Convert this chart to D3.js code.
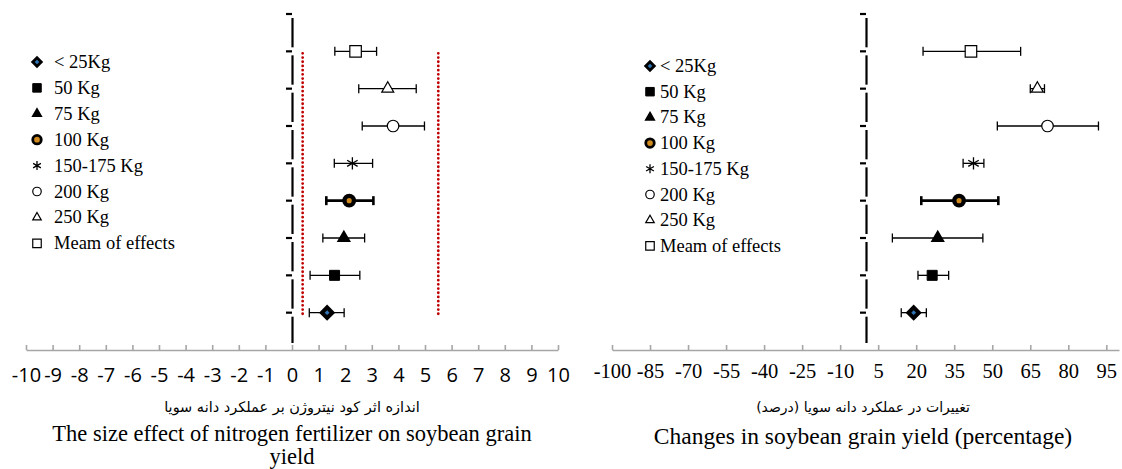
<!DOCTYPE html>
<html>
<body style="margin:0;background:#fff">

<script src="https://d3js.org/d3.v7.min.js"></script>
<style>

body {
    font: 16px "Liberation Serif", serif;
}

.x-axis path, .x-axis line {
    stroke: #a6a6a6;
    stroke-width: 1.6;
}

.legend text {
    font: 18.5px "Liberation Serif", serif;
}

.title-fa {
    font: 14px "DejaVu Sans", sans-serif;
}

.title-en {
    font: 22.5px "Liberation Serif", serif;
}

</style>

<script>

// rows bottom to top: < 25, 50, 75, 100, 150-175, 200, 250, mean
var categories = ["< 25Kg", "50 Kg", "75 Kg", "100 Kg", "150-175 Kg", "200 Kg", "250 Kg", "Meam of effects"];

// left panel - effect size
var effectMean = [1.32, 1.60, 1.95, 2.15, 2.27, 3.80, 3.60, 2.39];
var effectLow  = [0.65, 0.68, 1.16, 1.29, 1.59, 2.64, 2.51, 1.61];
var effectHigh = [1.96, 2.55, 2.73, 3.06, 3.03, 4.98, 4.67, 3.18];
var effectRefLines = [0.4, 5.5];
var effectTicks = [-10, -9, -8, -7, -6, -5, -4, -3, -2, -1, 0, 1, 2, 3, 4, 5, 6, 7, 8, 9, 10];

// right panel - yield change (%)
var changeMean = [19.0, 26.3, 28.5, 36.9, 42.6, 71.8, 67.8, 41.6];
var changeLow  = [14.1, 20.7, 10.6, 22.0, 38.5, 52.0, 65.0, 22.7];
var changeHigh = [24.0, 32.8, 46.3, 52.4, 46.7, 91.9, 70.6, 61.2];
var changeTicks = [-100, -85, -70, -55, -40, -25, -10, 5, 20, 35, 50, 65, 80, 95];

var width = 1122,
    height = 469;

var svg = d3.select("body").append("svg")
    .attr("width", width)
    .attr("height", height)
    .style("display", "block");

// marker look for each category (s = size in the plot)
var markers = [
    {type: "diamond",  fill: "#2e75b6", sw: 4,   s: 10.5},
    {type: "square",   fill: "#000",    sw: 1,   s: 10},
    {type: "triangle", fill: "#000",    sw: 1.6, s: 11.5},
    {type: "circle",   fill: "#d08a1e", sw: 4.4, s: 9.5},
    {type: "asterisk", fill: "none",    sw: 1.3, s: 11.5},
    {type: "circle",   fill: "#fff",    sw: 1.2, s: 11.5},
    {type: "triangle", fill: "#fff",    sw: 1.2, s: 12},
    {type: "square",   fill: "#fff",    sw: 1.2, s: 11.5}
];

function symbolPath(type, s) {
    // s ~ pixel width of the marker
    if (type == "diamond") return d3.symbol(d3.symbolSquare, s * s / 2)();
    if (type == "square") return d3.symbol(d3.symbolSquare, s * s)();
    if (type == "triangle") return d3.symbol(d3.symbolTriangle, s * s * 0.433)();
    if (type == "circle") return d3.symbol(d3.symbolCircle, Math.PI * s * s / 4)();
    return d3.symbol(d3.symbolAsterisk, s * s * 0.78)();
}

function drawMarker(g, m, s) {
    g.append("path")
        .attr("d", symbolPath(m.type, s))
        .attr("transform", m.type == "diamond" ? "rotate(45)" : null)
        .style("fill", m.fill)
        .style("stroke", "#000")
        .style("stroke-width", m.sw);
}

var yScale = d3.scaleLinear()
    .domain([0, 9])
    .range([350, 14]);

function drawPanel(p) {

    var xScale = d3.scaleLinear()
        .domain(p.domain)
        .range(p.range);

    var g = svg.append("g");

    // bottom axis, gray with ticks pointing up
    var xAxis = d3.axisBottom(xScale)
        .tickValues(p.ticks)
        .tickSizeInner(-5)
        .tickSizeOuter(0)
        .tickFormat(function(d) { return d });

    var ax = g.append("g")
        .attr("class", "x-axis")
        .attr("transform", "translate(0,350)")
        .call(xAxis);

    ax.attr("font-family", null).attr("font-size", null);

    ax.selectAll("text")
        .attr("y", p.labelY)
        .attr("dy", null)
        .style("font-family", p.labelFamily)
        .style("font-size", p.labelSize)
        .style("fill", "#000");

    // reference lines
    g.selectAll(".ref")
        .data(p.refs)
      .enter().append("line")
        .attr("x1", function(d) { return xScale(d) })
        .attr("x2", function(d) { return xScale(d) })
        .attr("y1", yScale(8) + 2)
        .attr("y2", yScale(1) + 2)
        .style("stroke", "#c00000")
        .style("stroke-width", 2.8)
        .style("stroke-linecap", "round")
        .style("stroke-dasharray", "0,4.2");

    // vertical zero axis: broken black segments with ticks on the left
    var x0 = Math.round(xScale(0)) + 0.5;
    var steps = d3.range(0, 9);
    g.selectAll(".seg")
        .data(steps)
      .enter().append("line")
        .attr("x1", x0).attr("x2", x0)
        .attr("y1", function(d) { return yScale(d + 1) + 4 })
        .attr("y2", function(d) { return yScale(d) - (d == 0 ? 7 : 4) })
        .style("stroke", "#000")
        .style("stroke-width", 2.2);

    g.selectAll(".ytick")
        .data(d3.range(1, 10))
      .enter().append("line")
        .attr("x1", x0 - 6.5).attr("x2", x0 - 0.5)
        .attr("y1", function(d) { return yScale(d) })
        .attr("y2", function(d) { return yScale(d) })
        .style("stroke", "#000")
        .style("stroke-width", 2.2);

    // error bars + markers
    var rows = g.selectAll(".row")
        .data(categories)
      .enter().append("g")
        .attr("class", "row")
        .attr("transform", function(d, i) { return "translate(0," + yScale(i + 1) + ")" });

    rows.each(function(d, i) {
        var r = d3.select(this);
        var lo = xScale(p.low[i]), hi = xScale(p.high[i]);
        var w = i == 3 ? 2.6 : 1.3;
        r.append("line")
            .attr("x1", lo).attr("x2", hi)
            .style("stroke", "#000").style("stroke-width", w);
        [lo, hi].forEach(function(x) {
            r.append("line")
                .attr("x1", x).attr("x2", x)
                .attr("y1", -4.5).attr("y2", 4.5)
                .style("stroke", "#000").style("stroke-width", w);
        });
        var mg = r.append("g")
            .attr("transform", "translate(" + xScale(p.mean[i]) + ",0)");
        drawMarker(mg, markers[i], markers[i].s);
    });

    // legend, top to bottom in category order
    var legend = g.append("g")
        .attr("class", "legend");

    categories.forEach(function(c, i) {
        var lg = legend.append("g")
            .attr("transform", "translate(" + p.legendX + "," + (p.legendY + i * p.legendStep) + ")");
        var m = Object.assign({}, markers[i], {sw: Math.min(markers[i].sw, 2.8)});
        drawMarker(lg, m, 8.5);
        lg.append("text")
            .attr("x", p.legendGap)
            .attr("y", 6)
            .text(c);
    });

    // axis titles
    g.append("text")
        .attr("class", "title-fa")
        .attr("x", p.titleX)
        .attr("y", 412)
        .attr("direction", "rtl")
        .style("text-anchor", "middle")
        .style("font-size", p.faSize)
        .text(p.titleFa);

    p.titleEn.forEach(function(t, k) {
        g.append("text")
            .attr("class", "title-en")
            .attr("x", p.titleX)
            .attr("y", p.enY + k * 23)
            .style("text-anchor", "middle")
            .style("font-size", p.enSize)
            .text(t);
    });
}

drawPanel({
    domain: [-10, 10],
    range: [26, 558],
    ticks: effectTicks,
    labelY: 32,
    labelFamily: "'Open Sans', sans-serif",
    labelSize: "20px",
    refs: effectRefLines,
    mean: effectMean, low: effectLow, high: effectHigh,
    legendX: 37, legendY: 62, legendStep: 25.9, legendGap: 17,
    titleX: 292,
    faSize: "14.5px",
    titleFa: "اندازه اثر کود نیتروژن بر عملکرد دانه سویا",
    enY: 441, enSize: "22.5px",
    titleEn: ["The size effect of nitrogen fertilizer on soybean grain", "yield"]
});

drawPanel({
    domain: [-100, 100],
    range: [612, 1119],
    ticks: changeTicks,
    labelY: 28,
    labelFamily: "'Liberation Serif', serif",
    labelSize: "20.5px",
    refs: [],
    mean: changeMean, low: changeLow, high: changeHigh,
    legendX: 650, legendY: 66, legendStep: 25.7, legendGap: 10,
    titleX: 863,
    faSize: "14px",
    titleFa: "تغییرات در عملکرد دانه سویا (درصد)",
    enY: 444, enSize: "23.5px",
    titleEn: ["Changes in soybean  grain yield (percentage)"]
});

</script>
</body>
</html>
